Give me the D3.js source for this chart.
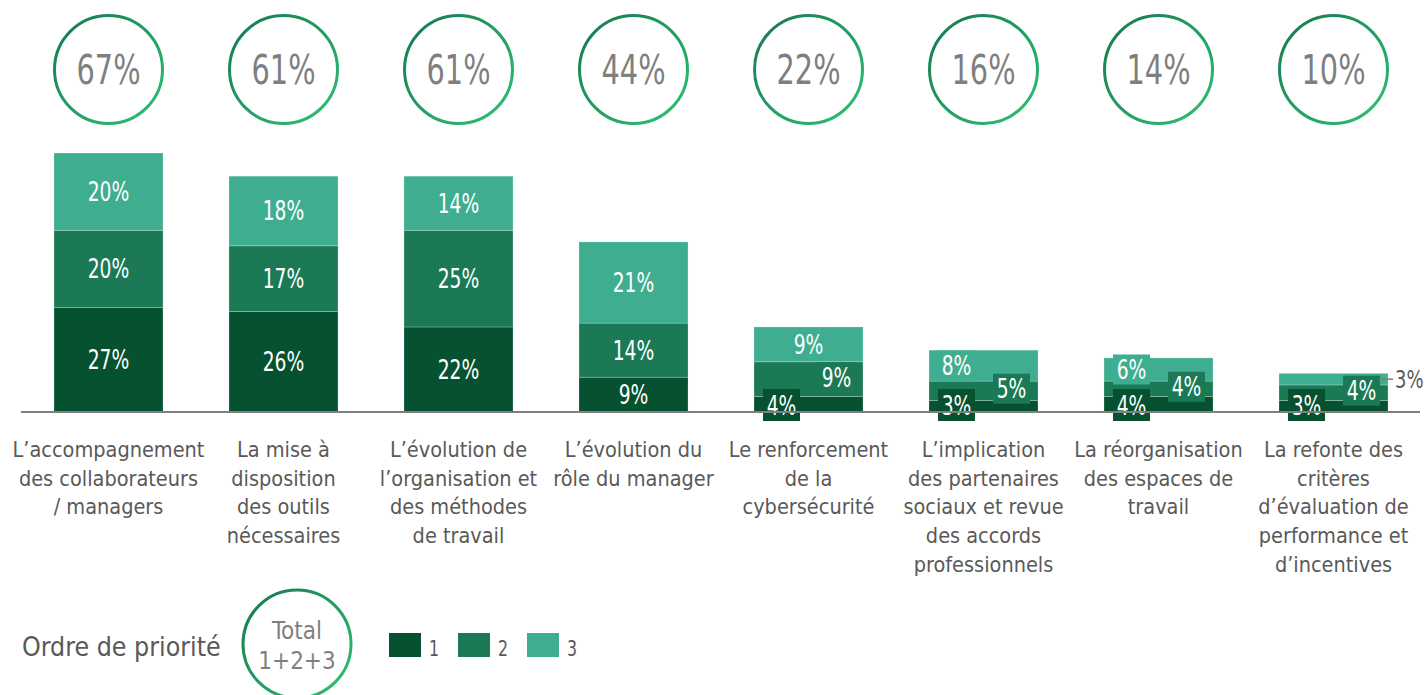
<!DOCTYPE html>
<html><head><meta charset="utf-8">
<script src="https://cdn.jsdelivr.net/npm/d3@7"></script>
<style>
html,body{margin:0;padding:0;background:#fff;}
svg{display:block;}
.num{font-family:"DejaVu Sans Condensed","DejaVu Sans",sans-serif;font-stretch:condensed;}
.txt{font-family:"DejaVu Sans Condensed","DejaVu Sans",sans-serif;font-stretch:condensed;}
</style></head>
<body>
<svg id="chart" width="1426" height="695"></svg>
<script>
// ---- data ----
const categories = [
  "L’accompagnement des collaborateurs / managers",
  "La mise à disposition des outils nécessaires",
  "L’évolution de l’organisation et des méthodes de travail",
  "L’évolution du rôle du manager",
  "Le renforcement de la cybersécurité",
  "L’implication des partenaires sociaux et revue des accords professionnels",
  "La réorganisation des espaces de travail",
  "La refonte des critères d’évaluation de performance et d’incentives"
];
const categoryLines = [
  ["L’accompagnement","des collaborateurs","/ managers"],
  ["La mise à","disposition","des outils","nécessaires"],
  ["L’évolution de","l’organisation et","des méthodes","de travail"],
  ["L’évolution du","rôle du manager"],
  ["Le renforcement","de la","cybersécurité"],
  ["L’implication","des partenaires","sociaux et revue","des accords","professionnels"],
  ["La réorganisation","des espaces de","travail"],
  ["La refonte des","critères","d’évaluation de","performance et","d’incentives"]
];
const priority1 = [27, 26, 22, 9, 4, 3, 4, 3];
const priority2 = [20, 17, 25, 14, 9, 5, 4, 4];
const priority3 = [20, 18, 14, 21, 9, 8, 6, 3];
const totals = [67, 61, 61, 44, 22, 16, 14, 10];
const seriesKeys = ["1", "2", "3"];
const legendTitle = "Ordre de priorité";
const totalLabel = ["Total", "1+2+3"];

// ---- layout / style (not data) ----
const colors = ["#06512f", "#1b7a55", "#3fae90"];
const labelLayout = [
  ["c","c","c"],["c","c","c"],["c","c","c"],["c","c","c"],
  ["boxL","boxR","c"],
  ["boxL","boxR","boxL"],
  ["boxL","boxR","boxL"],
  ["boxL","boxR","out"]
];
const NARROW = 0.8;

const svg = d3.select("#chart");
const baseY = 412;
const x = d3.scaleBand().domain(categories).range([21, 1421]).paddingInner(0.377).paddingOuter(0.1885);
const y = d3.scaleLinear().domain([0, d3.max(totals)]).range([baseY, 153]);

function numText(parent, px, py, txt, size, anchor, fill) {
  return parent.append("text").attr("class","num")
    .attr("transform", `translate(${px},${py}) scale(${NARROW},1)`)
    .attr("text-anchor", anchor).attr("font-size", size).attr("fill", fill).text(txt);
}

const defs = svg.append("defs");
const grad = defs.append("linearGradient").attr("id","ringGrad")
  .attr("x1","0").attr("y1","0").attr("x2","1").attr("y2","1");
grad.append("stop").attr("offset","0%").attr("stop-color","#16774f");
grad.append("stop").attr("offset","100%").attr("stop-color","#2fc274");

const rows = categories.map((c,i)=>({cat:c, "1":priority1[i], "2":priority2[i], "3":priority3[i], total:totals[i], i}));
const stack = d3.stack().keys(seriesKeys)(rows);

// bars
const g = svg.append("g");
stack.forEach((layer, li) => {
  g.selectAll(null).data(layer).join("rect")
    .attr("x", d => x(d.data.cat))
    .attr("y", d => y(d[1]))
    .attr("width", x.bandwidth())
    .attr("height", d => y(d[0]) - y(d[1]))
    .attr("fill", colors[li])
    .attr("stroke", "rgba(255,255,255,0.28)")
    .attr("stroke-width", 0.8);
});

// axis baseline
svg.append("line").attr("x1", 21).attr("x2", 1420).attr("y1", baseY).attr("y2", baseY)
  .attr("stroke", "#7f7f7f").attr("stroke-width", 2.2);

// segment labels
const bw = x.bandwidth();
stack.forEach((layer, li) => {
  layer.forEach(d => {
    const i = d.data.i;
    const mode = labelLayout[i][li];
    const x0 = x(d.data.cat);
    const top = y(d[1]), bot = y(d[0]);
    const cy = (top + bot) / 2;
    const txt = d.data[seriesKeys[li]] + "%";
    if (mode === "c") {
      numText(g, x0 + bw/2, cy + 9.5, txt, 26, "middle", "#fff");
    } else if (mode === "boxL" || mode === "boxR") {
      let bx, byc;
      if (mode === "boxL") { bx = x0 + 9; byc = li === 0 ? baseY - 7 : cy; }
      else { bx = x0 + bw - 45; byc = cy - 2; }
      const bh = li === 0 ? 32 : 30;
      g.append("rect").attr("x", bx).attr("y", byc - bh/2).attr("width", 37).attr("height", bh)
        .attr("fill", colors[li]);
      numText(g, bx + 18.5, byc + 9.5, txt, 26, "middle", "#fff");
    } else if (mode === "out") {
      g.append("line").attr("x1", x0 + bw - 9).attr("x2", x0 + bw + 5).attr("y1", cy).attr("y2", cy)
        .attr("stroke","#7f7f7f").attr("stroke-width",1.5);
      numText(g, x0 + bw + 7, cy + 9, txt, 25, "start", "#595959");
    }
  });
});

// total circles
const circ = svg.append("g");
rows.forEach(r => {
  const cx = x(r.cat) + bw/2;
  circ.append("circle").attr("cx", cx).attr("cy", 69.5).attr("r", 54)
    .attr("fill","none").attr("stroke","url(#ringGrad)").attr("stroke-width", 3);
  numText(circ, cx, 83.5, r.total + "%", 40, "middle", "#7f7f7f");
});

// category labels
rows.forEach(r => {
  const cx = x(r.cat) + bw/2;
  const t = svg.append("text").attr("class","txt").attr("text-anchor","middle")
    .attr("font-size", 21.5).attr("fill","#595959");
  categoryLines[r.i].forEach((ln, k) => {
    t.append("tspan").attr("x", cx).attr("y", 457 + k*28.7).text(ln);
  });
});

// legend
const lg = svg.append("g");
lg.append("text").attr("class","txt").attr("x", 22).attr("y", 656)
  .attr("font-size", 26.5).attr("fill","#595959").text(legendTitle);
lg.append("circle").attr("cx", 297).attr("cy", 644).attr("r", 54)
  .attr("fill","none").attr("stroke","url(#ringGrad)").attr("stroke-width", 3);
totalLabel.forEach((t, k) => {
  lg.append("text").attr("class","txt").attr("x", 297).attr("y", 639 + k*30)
    .attr("text-anchor","middle").attr("font-size", 24).attr("fill","#7f7f7f").text(t);
});
const legX = d3.scaleOrdinal().domain(seriesKeys).range([389, 458, 527]);
seriesKeys.forEach((k, li) => {
  lg.append("rect").attr("x", legX(k)).attr("y", 633).attr("width", 32).attr("height", 24).attr("fill", colors[li]);
  numText(lg, legX(k) + 40, 656, k, 22, "start", "#595959");
});
</script>
</body></html>
